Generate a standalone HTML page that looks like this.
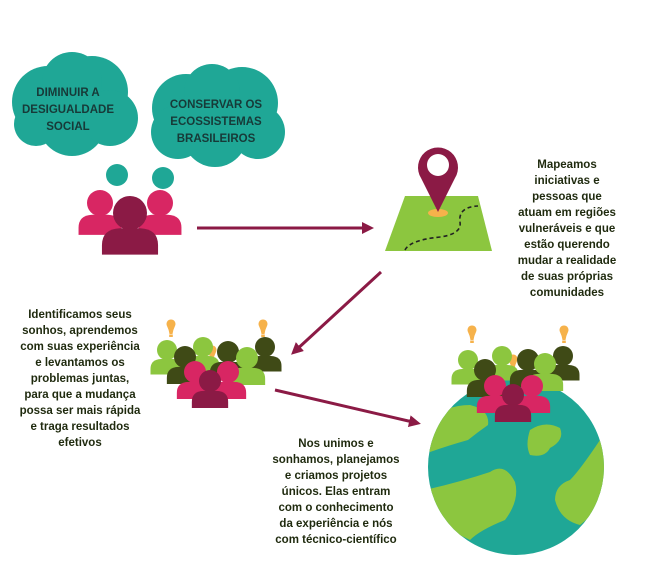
<!DOCTYPE html>
<html><head><meta charset="utf-8"><style>
html,body{margin:0;padding:0;background:#fff}
svg{display:block}
text{font-family:"Liberation Sans",sans-serif;font-weight:bold}
.t{font-size:11.5px;fill:#1f2a0e;text-anchor:middle}
.c{font-size:11.5px;fill:#173a38;text-anchor:middle;font-weight:bold}
</style></head><body>
<svg width="656" height="578" viewBox="0 0 656 578" xmlns="http://www.w3.org/2000/svg">
<defs>
<g id="p"><circle cx="0" cy="0" r="1"/><path d="M-1.65,2.45 V1.9 Q-1.65,0.95 -0.6,0.9 H0.6 Q1.65,0.95 1.65,1.9 V2.45 Z"/></g>
<g id="b"><path d="M-4,-4 A4.5,4.5 0 1 1 4,-4 Q2,0 1.5,4 H-1.5 Q-2,0 -4,-4Z" fill="#f6b24b"/><rect x="-1.8" y="4.5" width="3.6" height="2.5" fill="#f6b24b"/></g>
<marker id="ah" markerWidth="12" markerHeight="12" refX="8" refY="6" orient="auto" markerUnits="userSpaceOnUse"><path d="M0,0 L12,6 L0,12 Z" fill="#8b1a45"/></marker>
</defs>

<g fill="#1fa796">
<circle cx="48" cy="102" r="36"/><circle cx="92" cy="92" r="36"/><circle cx="72" cy="122" r="34"/><circle cx="36" cy="124" r="22"/><circle cx="110" cy="118" r="28"/><circle cx="72" cy="82" r="30"/>
<circle cx="186" cy="108" r="34"/><circle cx="242" cy="103" r="36"/><circle cx="215" cy="135" r="32"/><circle cx="258" cy="132" r="27"/><circle cx="178" cy="132" r="27"/><circle cx="212" cy="92" r="28"/>
<circle cx="117" cy="175" r="11"/><circle cx="163" cy="178" r="11"/>
</g>
<text class="c" x="68" y="96">DIMINUIR A</text>
<text class="c" x="68" y="113">DESIGUALDADE</text>
<text class="c" x="68" y="130">SOCIAL</text>
<text class="c" x="216" y="108">CONSERVAR OS</text>
<text class="c" x="216" y="125">ECOSSISTEMAS</text>
<text class="c" x="216" y="142">BRASILEIROS</text>

<use href="#p" transform="translate(100,203) scale(13)" fill="#d82663"/>
<use href="#p" transform="translate(160,203) scale(13)" fill="#d82663"/>
<use href="#p" transform="translate(130,213) scale(17)" fill="#8b1a45"/>

<line x1="197" y1="228" x2="370" y2="228" stroke="#8b1a45" stroke-width="3" marker-end="url(#ah)"/>
<line x1="381" y1="272" x2="294" y2="352" stroke="#8b1a45" stroke-width="3" marker-end="url(#ah)"/>
<line x1="275" y1="390" x2="417" y2="423" stroke="#8b1a45" stroke-width="3" marker-end="url(#ah)"/>

<path d="M405,196 H478 L492,251 H385 Z" fill="#8cc63f"/>
<path d="M405,250 Q410,240 440,237 Q462,234 460,222 Q458,207 478,206" fill="none" stroke="#222" stroke-width="1.6" stroke-dasharray="4,3"/>
<ellipse cx="438" cy="213" rx="10" ry="4" fill="#f6b24b"/>
<path d="M438,212 L421,178 A20,20 0 1 1 455,178 Z" fill="#8b1a45"/>
<circle cx="438" cy="165" r="11" fill="#fff"/>

<text class="t" x="567" y="168">Mapeamos</text>
<text class="t" x="567" y="184">iniciativas e</text>
<text class="t" x="567" y="200">pessoas que</text>
<text class="t" x="567" y="216">atuam em regiões</text>
<text class="t" x="567" y="232">vulneráveis e que</text>
<text class="t" x="567" y="248">estão querendo</text>
<text class="t" x="567" y="264">mudar a realidade</text>
<text class="t" x="567" y="280">de suas próprias</text>
<text class="t" x="567" y="296">comunidades</text>

<text class="t" x="80" y="318">Identificamos seus</text>
<text class="t" x="80" y="334">sonhos, aprendemos</text>
<text class="t" x="80" y="350">com suas experiência</text>
<text class="t" x="80" y="366">e levantamos os</text>
<text class="t" x="80" y="382">problemas juntas,</text>
<text class="t" x="80" y="398">para que a mudança</text>
<text class="t" x="80" y="414">possa ser mais rápida</text>
<text class="t" x="80" y="430">e traga resultados</text>
<text class="t" x="80" y="446">efetivos</text>

<use href="#b" transform="translate(171,330)"/>
<use href="#b" transform="translate(263,330)"/>
<use href="#b" transform="translate(212,356)"/>
<use href="#p" transform="translate(167,350) scale(10)" fill="#8cc63f"/>
<use href="#p" transform="translate(203,347) scale(10)" fill="#8cc63f"/>
<use href="#p" transform="translate(265,347) scale(10)" fill="#3f4a16"/>
<use href="#p" transform="translate(185,357) scale(11)" fill="#3f4a16"/>
<use href="#p" transform="translate(228,352) scale(11)" fill="#3f4a16"/>
<use href="#p" transform="translate(247,358) scale(11)" fill="#8cc63f"/>
<use href="#p" transform="translate(195,372) scale(11)" fill="#d82663"/>
<use href="#p" transform="translate(228,372) scale(11)" fill="#d82663"/>
<use href="#p" transform="translate(210,381) scale(11)" fill="#8b1a45"/>

<circle cx="516" cy="467" r="88" fill="#1fa796"/>
<clipPath id="gc"><circle cx="516" cy="467" r="88"/></clipPath>
<g clip-path="url(#gc)" fill="#8cc63f">
<path d="M420,430 Q440,405 470,405 Q490,410 488,425 Q478,432 468,440 Q450,445 430,452 Z"/>
<path d="M425,490 Q460,482 490,472 Q505,462 515,482 Q520,500 505,520 Q480,530 470,540 Q450,530 425,520 Z"/>
<path d="M530,430 Q545,420 560,428 Q565,440 550,448 Q545,458 530,455 Q525,445 530,430 Z"/>
<path d="M600,440 Q580,470 570,480 Q555,485 555,500 Q560,520 580,525 Q600,510 610,480 Z"/>
</g>

<use href="#b" transform="translate(472,336)"/>
<use href="#b" transform="translate(564,336)"/>
<use href="#b" transform="translate(513,365)"/>
<use href="#p" transform="translate(468,360) scale(10)" fill="#8cc63f"/>
<use href="#p" transform="translate(502,356) scale(10)" fill="#8cc63f"/>
<use href="#p" transform="translate(563,356) scale(10)" fill="#3f4a16"/>
<use href="#p" transform="translate(485,370) scale(11)" fill="#3f4a16"/>
<use href="#p" transform="translate(528,360) scale(11)" fill="#3f4a16"/>
<use href="#p" transform="translate(545,364) scale(11)" fill="#8cc63f"/>
<use href="#p" transform="translate(495,386) scale(11)" fill="#d82663"/>
<use href="#p" transform="translate(532,386) scale(11)" fill="#d82663"/>
<use href="#p" transform="translate(513,395) scale(11)" fill="#8b1a45"/>

<text class="t" x="336" y="447">Nos unimos e</text>
<text class="t" x="336" y="463">sonhamos, planejamos</text>
<text class="t" x="336" y="479">e criamos projetos</text>
<text class="t" x="336" y="495">únicos. Elas entram</text>
<text class="t" x="336" y="511">com o conhecimento</text>
<text class="t" x="336" y="527">da experiência e nós</text>
<text class="t" x="336" y="543">com técnico-científico</text>
</svg>
</body></html>
